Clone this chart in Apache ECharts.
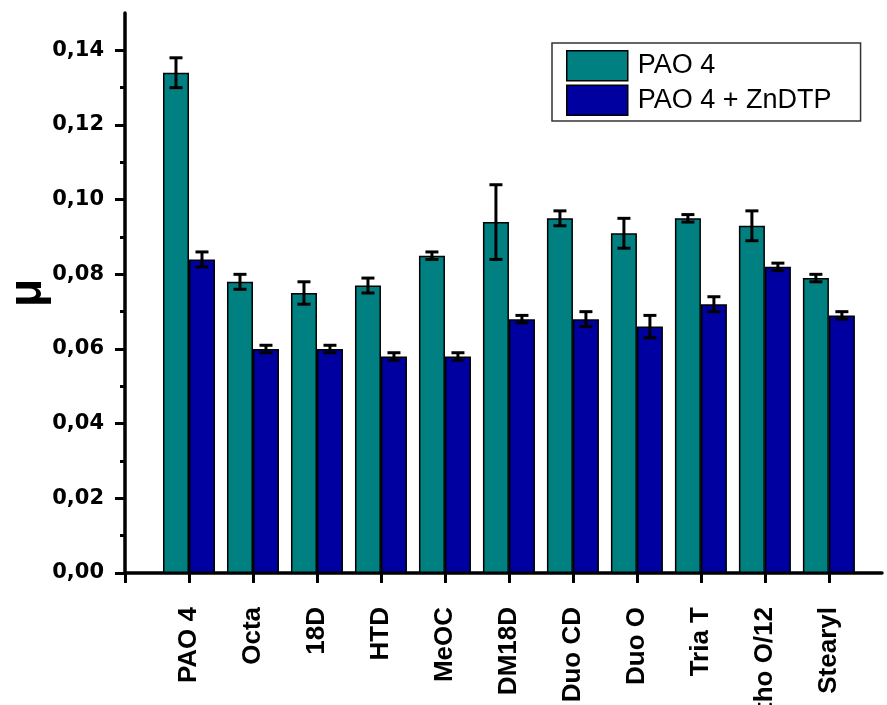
<!DOCTYPE html>
<html>
<head>
<meta charset="utf-8">
<script src="https://cdn.jsdelivr.net/npm/echarts@6/dist/echarts.min.js"></script>
<style>html,body{margin:0;padding:0;background:#fff;}#c{width:887px;height:705px;}</style>
</head>
<body>
<div id="c"></div>
<script>
const categories = ['PAO 4','Octa','18D','HTD','MeOC','DM18D','Duo CD','Duo O','Tria T','Ortho O/12','Stearyl'];
const positions = [1,2,3,4,5,6,7,8,9,10,11];
const seriesNames = ['PAO 4', 'PAO 4 + ZnDTP'];
const pao4 = [0.134,0.078,0.075,0.077,0.085,0.094,0.095,0.091,0.095,0.093,0.079];
const pao4Err = [0.004,0.002,0.003,0.002,0.001,0.010,0.002,0.004,0.001,0.004,0.001];
const zndtp = [0.084,0.060,0.060,0.058,0.058,0.068,0.068,0.066,0.072,0.082,0.069];
const zndtpErr = [0.002,0.001,0.001,0.001,0.001,0.001,0.002,0.003,0.002,0.001,0.001];
const yTicks = [0,0.02,0.04,0.06,0.08,0.10,0.12,0.14];
const yMinorTicks = [0.01,0.03,0.05,0.07,0.09,0.11,0.13];
const xTicks = [0,1,2,3,4,5,6,7,8,9,10,11];

const chart = echarts.init(document.getElementById('c'), null, {renderer:'canvas'});

function barData(vals){ return positions.map((p,i)=>[p, vals[i]]); }
function errData(vals, errs){ return positions.map((p,i)=>[p, vals[i], errs[i]]); }
function errRender(off){
  return function(params, api){
    const x = api.value(0), v = api.value(1), e = api.value(2);
    const t = api.coord([x, v + e]);
    const b = api.coord([x, v - e]);
    const cx = t[0] + off;
    const st = {stroke:'#000', lineWidth:3};
    return {type:'group', children:[
      {type:'line', shape:{x1:cx, y1:t[1], x2:cx, y2:b[1]}, style:st},
      {type:'line', shape:{x1:cx-6.5, y1:t[1], x2:cx+6.5, y2:t[1]}, style:st},
      {type:'line', shape:{x1:cx-6.5, y1:b[1], x2:cx+6.5, y2:b[1]}, style:st}
    ]};
  };
}

const option = {
  animation:false,
  backgroundColor:'#fff',
  grid:{left:125, right:5, top:13, bottom:132, containLabel:false, outerBoundsMode:'none'},
  legend:{
    left:552, top:43, orient:'vertical', icon:'rect',
    padding:[7,29,5,14], itemGap:3, itemWidth:61, itemHeight:30,
    borderColor:'#333', borderWidth:1.5, backgroundColor:'#fff',
    itemStyle:{borderColor:'#000', borderWidth:1.5},
    textStyle:{fontFamily:'Liberation Sans', fontSize:27, color:'#000', lineHeight:30, padding:[0,0,0,5]},
    data:seriesNames
  },
  xAxis:{
    type:'value', min:0, max:11.83,
    splitLine:{show:false},
    axisLine:{show:true, onZero:false, lineStyle:{color:'#000', width:3.5}},
    axisTick:{show:true, length:10, lineStyle:{color:'#000', width:3}, customValues:xTicks},
    axisLabel:{
      customValues:positions, rotate:90, margin:34, hideOverlap:false,
      fontFamily:'Liberation Sans', fontWeight:'bold', fontSize:26, color:'#000',
      formatter:function(v){ const i = positions.indexOf(Math.round(v)); return i>=0 ? categories[i] : ''; }
    }
  },
  yAxis:[{
    type:'value', min:0, max:0.15,
    name:'μ', nameLocation:'middle', nameRotate:90, nameGap:74, nameMoveOverlap:false,
    nameTextStyle:{fontFamily:'Liberation Sans', fontWeight:'bold', fontSize:46, color:'#000'},
    splitLine:{show:false},
    axisLine:{show:true, lineStyle:{color:'#000', width:3.5}},
    axisTick:{show:true, length:10, lineStyle:{color:'#000', width:3}, customValues:yTicks},
    axisLabel:{
      customValues:yTicks, margin:21,
      fontFamily:'DejaVu Sans', fontWeight:'bold', fontSize:21, color:'#000',
      formatter:function(v){ return v.toFixed(2).replace('.', ','); }
    }
  },{
    type:'value', min:0, max:0.15, position:'left',
    splitLine:{show:false},
    axisLine:{show:false},
    axisTick:{show:true, length:5, lineStyle:{color:'#000', width:3}, customValues:yMinorTicks},
    axisLabel:{show:false}
  }],
  series:[
    {name:seriesNames[0], type:'bar', data:barData(pao4), barWidth:26, barGap:'0%',
     itemStyle:{color:'#008080', borderColor:'#000', borderWidth:1.5}},
    {name:seriesNames[1], type:'bar', data:barData(zndtp), barWidth:26, barGap:'0%',
     itemStyle:{color:'#0000A0', borderColor:'#000', borderWidth:1.5}},
    {type:'custom', z:10, renderItem:errRender(-13), data:errData(pao4, pao4Err), encode:{x:0, y:1}, clip:false, silent:true},
    {type:'custom', z:10, renderItem:errRender(13), data:errData(zndtp, zndtpErr), encode:{x:0, y:1}, clip:false, silent:true}
  ]
};
chart.setOption(option);
</script>
</body>
</html>
